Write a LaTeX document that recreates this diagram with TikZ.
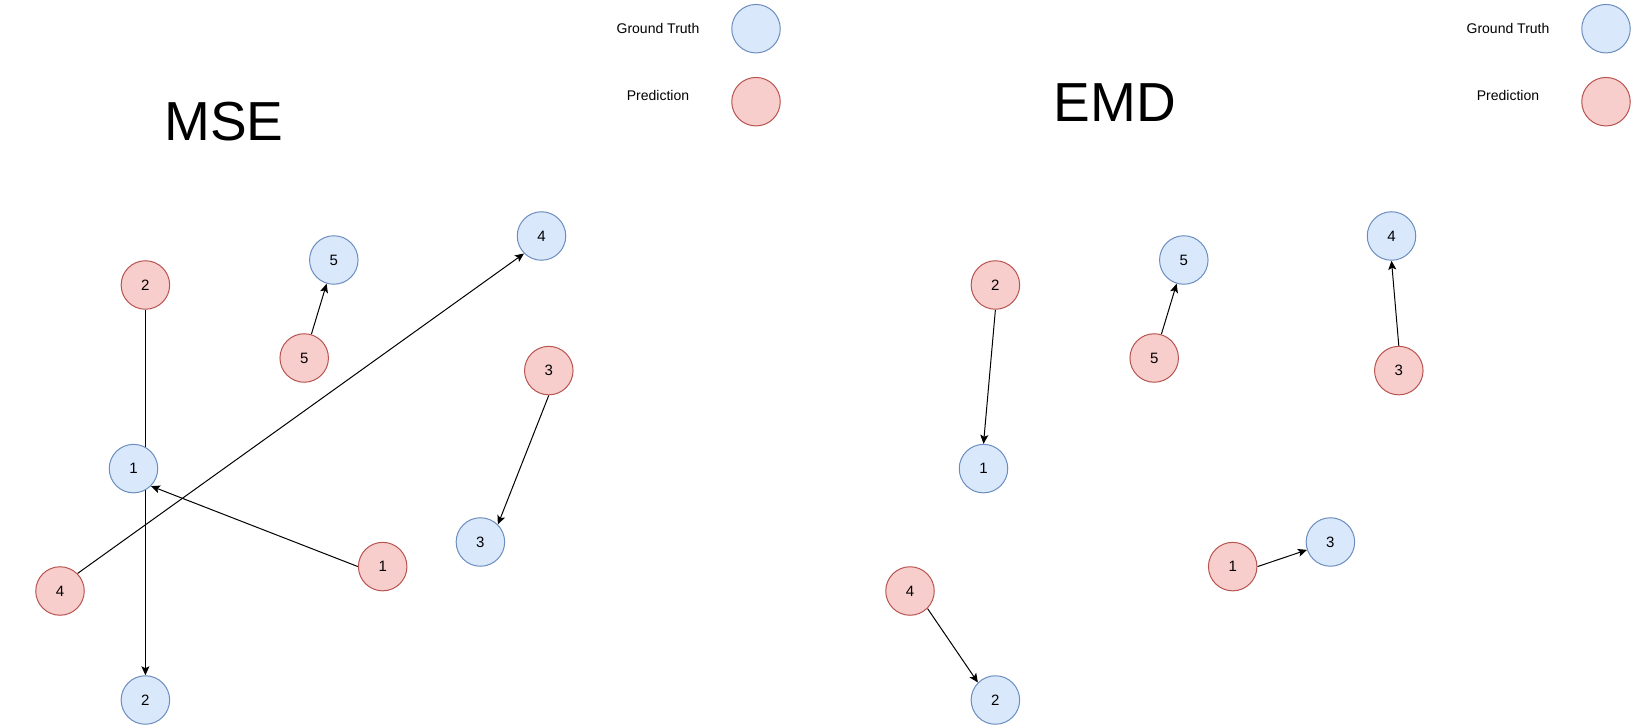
\documentclass[tikz,border=0pt]{standalone}
\usepackage{fontspec}
\setmainfont{Liberation Sans}
\usepackage{tikz}
\usetikzlibrary{arrows.meta}
\usetikzlibrary{backgrounds}
\usetikzlibrary{positioning}

\definecolor{gtfill}{HTML}{DAE8FC}
\definecolor{gtline}{HTML}{6C8EBF}
\definecolor{prfill}{HTML}{F8CECC}
\definecolor{prline}{HTML}{B85450}

\begin{document}
\begin{tikzpicture}[x=1pt,y=-1pt]
        \tikzstyle{pt}=[circle, line width=1pt, minimum size=48.5pt, inner sep=0pt, font=\fontsize{15}{18}\selectfont]
        \tikzstyle{gt}=[pt, draw=gtline, fill=gtfill]
        \tikzstyle{pr}=[pt, draw=prline, fill=prfill]
        \tikzstyle{ttl}=[inner sep=0pt, font=\fontsize{55}{60}\selectfont]
        \tikzstyle{leg}=[inner sep=0pt, font=\fontsize{14}{16}\selectfont]
        \tikzstyle{ldis}=[xshift=-98pt]
        \tikzstyle{flow}=[draw, line width=1pt, black, -{Stealth[length=9pt,width=8pt,inset=2pt]}]

        \newcommand{\panelgap}{850pt}

        \useasboundingbox (0,0) rectangle (1639,727);

        % MSE
        \node (tm) at (224,121.7) [ttl]{MSE};
        \node (lgm) at (756,28.7) [gt]{};
        \node (lpm) at (756,101.7) [pr]{};
        \node (tgm) at (lgm) [leg,ldis,yshift=0.4pt]{Ground Truth};
        \node (tpm) at (lpm) [leg,ldis,yshift=6.7pt]{Prediction};

        \node (mp2) at (145.4,285) [pr]{2};
        \node (mg5) at (333.8,260) [gt]{5};
        \node (mg4) at (541.5,236) [gt]{4};
        \node (mp5) at (304.2,358) [pr]{5};
        \node (mp3) at (548.8,370.6) [pr]{3};
        \node (mg1) at (133.5,468.6) [gt]{1};
        \node (mp1) at (382.7,566.6) [pr]{1};
        \node (mg3) at (480.4,542) [gt]{3};
        \node (mp4) at (60,591) [pr]{4};
        \node (mg2) at (145.4,700) [gt]{2};

        % EMD
        \begin{scope}[xshift=\panelgap]
        \node (te) at (265,102.5) [ttl]{EMD};
        \node (lge) at (756,28.7) [gt]{};
        \node (lpe) at (756,101.7) [pr]{};
        \node (tge) at (lge) [leg,ldis,yshift=0.4pt]{Ground Truth};
        \node (tpe) at (lpe) [leg,ldis,yshift=6.7pt]{Prediction};

        \node (ep2) at (145.4,285) [pr]{2};
        \node (eg5) at (333.8,260) [gt]{5};
        \node (eg4) at (541.5,236) [gt]{4};
        \node (ep5) at (304.2,358) [pr]{5};
        \node (ep3) at (548.8,370.6) [pr]{3};
        \node (eg1) at (133.5,468.6) [gt]{1};
        \node (ep1) at (382.7,566.6) [pr]{1};
        \node (eg3) at (480.4,542) [gt]{3};
        \node (ep4) at (60,591) [pr]{4};
        \node (eg2) at (145.4,700) [gt]{2};
        \end{scope}

        \begin{pgfonlayer}{background}
        \fill[white] (0,0) rectangle (1639,727);

        \draw[flow] (mp2.south)--(mg2.north);
        \draw[flow] (mp5)--(mg5);
        \draw[flow] (mp4.north east)--(mg4.south west);
        \draw[flow] (mp3.south)--(mg3.north east);
        \draw[flow] (mp1.west)--(mg1.south east);

        \draw[flow] (ep2.south)--(eg1.north);
        \draw[flow] (ep5)--(eg5);
        \draw[flow] (ep3.north)--(eg4.south);
        \draw[flow] (ep1.east)--(eg3);
        \draw[flow] (ep4.south east)--(eg2.north west);
        \end{pgfonlayer}
\end{tikzpicture}
\end{document}
